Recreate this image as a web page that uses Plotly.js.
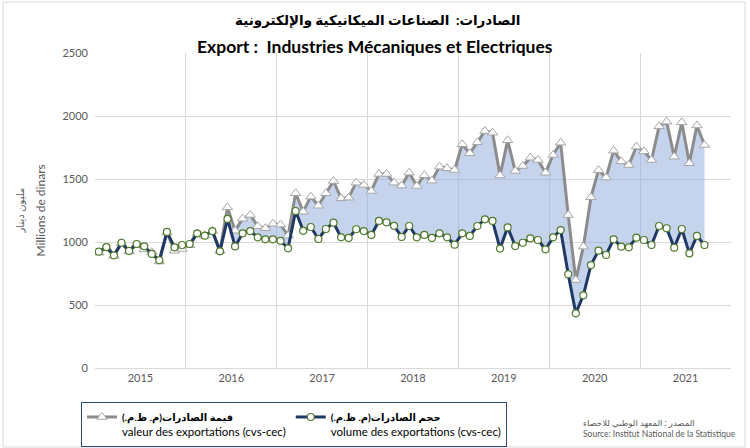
<!DOCTYPE html>
<html>
<head>
<meta charset="utf-8">
<script src="https://cdn.plot.ly/plotly-3.0.1.min.js"></script>
<style>
html,body{margin:0;padding:0;background:#fff;}
#chart{width:750px;height:448px;}
</style>
</head>
<body>
<div id="chart"></div>
<script>
// Years shown on the x axis (monthly data, Jan 2015 - Sep 2021)
const years = ['2015','2016','2017','2018','2019','2020','2021'];

// valeur des exportations (cvs-cec), millions de dinars
const valueSeries = [
  915, 955, 890, 990, 925, 980, 940, 920, 845, 1075, 930, 945,
  975, 1065, 1050, 1087, 930, 1275, 1090, 1185, 1215, 1125, 1110, 1145,
  1138, 1050, 1387, 1241, 1360, 1288, 1387, 1484, 1347, 1352, 1471, 1453,
  1405, 1540, 1540, 1471, 1448, 1550, 1445, 1530, 1487, 1598, 1585, 1572,
  1776, 1704, 1791, 1881, 1868, 1528, 1807, 1564, 1603, 1669, 1651, 1550,
  1691, 1788, 1214, 698, 963, 1355, 1570, 1512, 1725, 1640, 1611, 1757,
  1720, 1651, 1918, 1955, 1677, 1950, 1625, 1925, 1770
];

// volume des exportations (cvs-cec)
const volumeSeries = [
  923, 960, 894, 994, 929, 984, 966, 905, 855, 1080, 958, 976,
  984, 1069, 1050, 1087, 926, 1183, 965, 1069, 1087, 1037, 1021, 1021,
  1009, 950, 1246, 1089, 1119, 1024, 1103, 1153, 1037, 1032, 1101, 1087,
  1056, 1167, 1156, 1128, 1040, 1127, 1037, 1056, 1032, 1069, 1037, 979,
  1069, 1048, 1127, 1180, 1167, 948, 1116, 968, 994, 1029, 1016, 942,
  1037, 1095, 744, 434, 577, 817, 931, 897, 1021, 963, 958, 1034,
  1016, 976, 1127, 1109, 955, 1103, 910, 1048, 976
];

const valueName = '<b><span style="font-size:10px">قيمة الصادرات(م. ظ.م.)\u200F</span></b><br>valeur des exportations (cvs-cec)';
const volumeName = '<b><span style="font-size:10px">حجم الصادرات(م. ظ.م.)\u200F</span></b><br>volume des exportations (cvs-cec)';

const titleAr = 'الصادرات:  الصناعات الميكانيكية والإلكترونية';
const titleFr = 'Export :  Industries Mécaniques et Electriques';
const yTitleAr = 'مليون دينار';
const yTitleFr = 'Millions de dinars';
const sourceAr = 'المصدر : المعهد الوطني للاحصاء';
const sourceFr = 'Source: Institut National de la Statistique';

const idx = valueSeries.map((_, i) => i);
const yearCenters = years.map((_, k) => k * 12 + 5.5);
const yearBounds = years.map((_, k) => k * 12 - 0.5).concat([years.length * 12 - 0.5]);

const FONT = 'Lato, "DejaVu Sans", sans-serif';

const traces = [
  { x: idx, y: volumeSeries, type: 'scatter', mode: 'lines', line: {width: 0, color: 'rgba(0,0,0,0)'},
    showlegend: false, hoverinfo: 'skip' },
  { x: idx, y: valueSeries, type: 'scatter', mode: 'lines', line: {width: 0, color: 'rgba(0,0,0,0)'},
    fill: 'tonexty', fillcolor: 'rgba(143,170,220,0.52)', showlegend: false, hoverinfo: 'skip' },
  { x: idx, y: valueSeries, type: 'scatter', mode: 'lines+markers', name: valueName,
    line: {color: '#8c8c8c', width: 3},
    marker: {symbol: 'triangle-up', size: 9, color: '#ffffff', line: {color: '#a6a6a6', width: 1}} },
  { x: idx, y: volumeSeries, type: 'scatter', mode: 'lines+markers', name: volumeName,
    line: {color: '#1f3864', width: 3},
    marker: {symbol: 'circle', size: 7, color: '#ffffff', line: {color: '#4e7a2a', width: 1.2}} }
];

const layout = {
  width: 750, height: 448,
  margin: {l: 95, r: 19, t: 53, b: 80},
  paper_bgcolor: '#ffffff', plot_bgcolor: '#ffffff',
  font: {family: FONT, color: '#595959'},
  showlegend: true,
  legend: {
    orientation: 'h', xref: 'container', yref: 'container',
    x: 81 / 750, y: (448 - 402) / 448, xanchor: 'left', yanchor: 'top',
    bordercolor: '#2f4a7e', borderwidth: 1, bgcolor: '#ffffff',
    font: {family: FONT, size: 11.5, color: '#000000'}, valign: 'top', traceorder: 'normal'
  },
  xaxis: {
    range: [-0.5, years.length * 12 - 0.5],
    tickmode: 'array', tickvals: yearCenters, ticktext: years,
    showgrid: false, zeroline: false, showline: true, linecolor: '#d9d9d9', ticks: '',
    tickfont: {size: 11, color: '#595959', family: FONT},
    minor: {tickmode: 'array', tickvals: yearBounds, showgrid: true, gridcolor: '#d9d9d9', gridwidth: 1, ticks: ''}
  },
  yaxis: {
    range: [0, 2500], dtick: 500, tick0: 0,
    showgrid: true, gridcolor: '#d9d9d9', zeroline: false, showline: false, ticks: '',
    tickfont: {size: 11, color: '#595959', family: FONT},
    ticklabelstandoff: 6
  },
  annotations: [
    {text: '<b>' + titleAr + '</b>', xref: 'paper', yref: 'paper', x: (377 - 95) / 636, y: (368 - 20) / 315,
     xanchor: 'center', yanchor: 'middle', showarrow: false, font: {size: 13.5, color: '#000000', family: FONT}},
    {text: '<b>' + titleFr + '</b>', xref: 'paper', yref: 'paper', x: (375 - 95) / 636, y: (368 - 46) / 315,
     xanchor: 'center', yanchor: 'middle', showarrow: false, font: {size: 17.5, color: '#000000', family: FONT}},
    {text: yTitleAr, xref: 'paper', yref: 'paper', x: (19 - 95) / 636, y: 0.5, textangle: -90,
     xanchor: 'center', yanchor: 'middle', showarrow: false, font: {size: 10, color: '#595959', family: FONT}},
    {text: yTitleFr, xref: 'paper', yref: 'paper', x: (40 - 95) / 636, y: 0.5, textangle: -90,
     xanchor: 'center', yanchor: 'middle', showarrow: false, font: {size: 12, color: '#595959', family: FONT}},
    {text: sourceAr + '<br>' + sourceFr, xref: 'paper', yref: 'paper', x: (581 - 95) / 636, y: (368 - 416) / 315,
     xanchor: 'left', yanchor: 'top', align: 'left', showarrow: false, font: {size: 8.5, color: '#595959', family: FONT}}
  ],
  shapes: [
    {type: 'rect', xref: 'paper', yref: 'paper', x0: (3 - 95) / 636, x1: (745 - 95) / 636,
     y0: (368 - 447) / 315, y1: (368 - 2) / 315, line: {color: '#d9d9d9', width: 1}, fillcolor: 'rgba(0,0,0,0)', layer: 'below'}
  ]
};

Plotly.newPlot('chart', traces, layout, {staticPlot: true, displayModeBar: false});
</script>
</body>
</html>
